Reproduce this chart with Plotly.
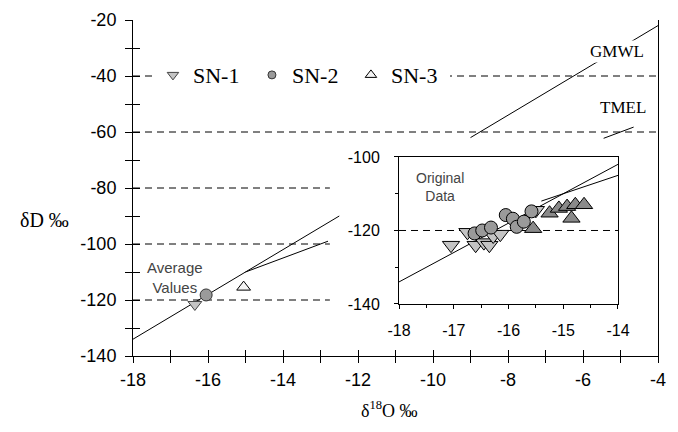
import plotly.graph_objects as go

# ---------------- data ----------------
# Average values (main panel)
avg_names = ["SN-1", "SN-2", "SN-3"]
avg_d18o = [-16.35, -16.05, -15.05]
avg_dd = [-121.6, -118.2, -115.4]

# Original data (inset)
sn1_d18o = [-17.05, -16.75, -16.6, -16.45, -16.35, -16.28, -16.15, -15.5]
sn1_dd = [-124.0, -120.5, -124.0, -123.3, -124.0, -121.5, -121.0, -114.5]
sn2_d18o = [-16.62, -16.48, -16.32, -16.05, -15.92, -15.85, -15.72, -15.58]
sn2_dd = [-120.8, -120.0, -119.2, -115.8, -116.8, -119.0, -117.6, -114.8]
sn3_d18o = [-15.55, -15.25, -15.08, -14.93, -14.85, -14.78, -14.62]
sn3_dd = [-119.5, -115.3, -114.0, -113.5, -116.7, -113.0, -113.0]

# Water lines: dD = slope * d18O + intercept
gmwl_slope, gmwl_intercept = 8.0, 10.0
tmel_slope, tmel_intercept = 5.0, -35.0
gmwl_main_segments = [(-18.0, -12.5), (-9.0, -4.0)]
tmel_main_segments = [(-15.0, -12.8), (-5.45, -4.65)]
gmwl_inset_segment = (-18.0, -14.0)
tmel_inset_segment = (-15.4, -14.0)

# dashed reference levels (main) and where they stop
ref_levels = [-40, -60, -80, -100, -120]
ref_level_ends = [-4.0, -4.0, -12.75, -12.75, -12.75]
inset_ref_level = -120

# tick labels
x_main_ticks = [-18, -17, -16, -15, -14, -13, -12, -11, -10, -9, -8, -7, -6, -5, -4]
x_main_labels = ["-18", "", "-16", "", "-14", "", "-12", "", "-10", "", "-8", "", "-6", "", "-4"]
y_main_ticks = [-140, -130, -120, -110, -100, -90, -80, -70, -60, -50, -40, -30, -20]
y_main_labels = ["-140", "", "-120", "", "-100", "", "-80", "", "-60", "", "-40", "", "-20"]
x_inset_ticks = [-18, -17, -16, -15, -14]
x_inset_labels = ["-18", "-17", "-16", "-15", "-14"]
y_inset_ticks = [-140, -120, -100]
y_inset_labels = ["-140", "-120", "-100"]

# ---------------- styles ----------------
SANS = "Liberation Sans, Arial, sans-serif"
SERIF = "Liberation Serif, Times New Roman, serif"
DASH = "7px,5px"

sn_style = {
    "SN-1": dict(symbol="triangle-down", color="#c4c4c4", line=dict(color="#444", width=1)),
    "SN-2": dict(symbol="circle", color="#9a9a9a", line=dict(color="#333", width=1)),
    "SN-3": dict(symbol="triangle-up", color="#f4f4f4", line=dict(color="#000", width=1)),
}
inset_colors = {"SN-1": "#c4c4c4", "SN-2": "#9a9a9a", "SN-3": "#8a8a8a"}

fig = go.Figure()

# dashed reference lines (main)
for lvl, xe in zip(ref_levels, ref_level_ends):
    fig.add_trace(go.Scatter(x=[-18, xe], y=[lvl, lvl], mode="lines",
                             line=dict(color="black", width=1, dash=DASH),
                             showlegend=False, hoverinfo="skip"))

# water lines (main)
for slope, icpt, segs in [(gmwl_slope, gmwl_intercept, gmwl_main_segments),
                          (tmel_slope, tmel_intercept, tmel_main_segments)]:
    for x0, x1 in segs:
        fig.add_trace(go.Scatter(x=[x0, x1], y=[slope * x0 + icpt, slope * x1 + icpt],
                                 mode="lines", line=dict(color="black", width=1),
                                 showlegend=False, hoverinfo="skip"))

# average markers (main)
for name, xv, yv in zip(avg_names, avg_d18o, avg_dd):
    st = sn_style[name]
    fig.add_trace(go.Scatter(x=[xv], y=[yv], mode="markers", showlegend=False,
                             marker=dict(symbol=st["symbol"], size=12, color=st["color"],
                                         line=st["line"])))

# legend-only entries
for name in avg_names:
    st = sn_style[name]
    fig.add_trace(go.Scatter(x=[None], y=[None], mode="markers", name=name,
                             marker=dict(symbol=st["symbol"], size=10 if name != "SN-2" else 8,
                                         color=st["color"], line=st["line"])))

# helper axes that carry the inner half of the crossing ticks
fig.add_trace(go.Scatter(x=[None], y=[None], xaxis="x3", yaxis="y",
                         showlegend=False, hoverinfo="skip"))
fig.add_trace(go.Scatter(x=[None], y=[None], xaxis="x", yaxis="y3",
                         showlegend=False, hoverinfo="skip"))

# ---- inset ----
fig.add_trace(go.Scatter(x=[-18, -14], y=[inset_ref_level, inset_ref_level], mode="lines",
                         line=dict(color="black", width=1, dash=DASH),
                         xaxis="x2", yaxis="y2", showlegend=False, hoverinfo="skip"))
for slope, icpt, (x0, x1) in [(gmwl_slope, gmwl_intercept, gmwl_inset_segment),
                              (tmel_slope, tmel_intercept, tmel_inset_segment)]:
    fig.add_trace(go.Scatter(x=[x0, x1], y=[slope * x0 + icpt, slope * x1 + icpt],
                             mode="lines", line=dict(color="black", width=1),
                             xaxis="x2", yaxis="y2", showlegend=False, hoverinfo="skip"))

for name, xs, ys, sz in [("SN-1", sn1_d18o, sn1_dd, 15), ("SN-2", sn2_d18o, sn2_dd, 13),
                         ("SN-3", sn3_d18o, sn3_dd, 15)]:
    st = sn_style[name]
    fig.add_trace(go.Scatter(x=xs, y=ys, mode="markers", xaxis="x2", yaxis="y2",
                             showlegend=False,
                             marker=dict(symbol=st["symbol"], size=sz, color=inset_colors[name],
                                         line=dict(color="black", width=1))))

axis_common = dict(showgrid=False, zeroline=False, linecolor="black", linewidth=1,
                   tickcolor="black", tickwidth=1, automargin=False)

# the page body adds an 8px margin, so the figure is 8px smaller than the window
fig.update_layout(
    template="none",
    width=670, height=424,
    margin=dict(l=125, r=20, t=12, b=76),
    paper_bgcolor="white", plot_bgcolor="white",
    font=dict(family=SANS, color="black"),
    xaxis=dict(range=[-18, -4], domain=[0, 1], anchor="y", showline=True,
               tickmode="array", tickvals=x_main_ticks, ticktext=x_main_labels,
               ticks="outside", ticklen=6, ticklabelstandoff=1,
               tickfont=dict(size=18, family=SANS), **axis_common),
    yaxis=dict(range=[-140, -20], domain=[0, 1], anchor="x", showline=True, mirror=True,
               tickmode="array", tickvals=y_main_ticks, ticktext=y_main_labels,
               ticks="outside", ticklen=7, ticklabelstandoff=5,
               tickfont=dict(size=18, family=SANS), **axis_common),
    xaxis3=dict(range=[-18, -4], overlaying="x", anchor="y", side="bottom", showline=False,
                tickmode="array", tickvals=x_main_ticks, showticklabels=False,
                ticks="inside", ticklen=6, **axis_common),
    yaxis3=dict(range=[-140, -20], overlaying="y", anchor="x", side="left", showline=False,
                tickmode="array", tickvals=y_main_ticks, showticklabels=False,
                ticks="inside", ticklen=7, **axis_common),
    xaxis2=dict(range=[-18, -14], domain=[0.5067, 0.9238], anchor="y2", showline=True,
                mirror=True, tickmode="array", tickvals=x_inset_ticks, ticktext=x_inset_labels,
                ticks="outside", ticklen=4, ticklabelstandoff=8,
                minor=dict(dtick=0.5, tick0=-18, ticks="outside", ticklen=3, tickcolor="black"),
                tickfont=dict(size=16, family=SANS), **axis_common),
    yaxis2=dict(range=[-140, -100], domain=[0.1548, 0.5923], anchor="x2", showline=True,
                mirror=True, tickmode="array", tickvals=y_inset_ticks, ticktext=y_inset_labels,
                ticks="outside", ticklen=4, ticklabelstandoff=11,
                minor=dict(dtick=10, tick0=-140, ticks="outside", ticklen=3, tickcolor="black"),
                tickfont=dict(size=16, family=SANS), **axis_common),
    legend=dict(orientation="h", x=0.038, xanchor="left", y=0.836, yanchor="middle",
                bgcolor="white", borderwidth=0, font=dict(family=SERIF, size=22),
                itemsizing="trace", entrywidth=54, entrywidthmode="pixels"),
    showlegend=True,
)

annotations = [
    dict(text="δD ‰", x=-0.1695, y=0.405, xref="paper", yref="paper", xanchor="center",
         yanchor="middle", showarrow=False, font=dict(family=SERIF, size=20)),
    dict(text="δ<sup>18</sup>O ‰", x=0.4895, y=-0.1607, xref="paper", yref="paper",
         xanchor="center", yanchor="middle", showarrow=False, font=dict(family=SERIF, size=18)),
    dict(text="GMWL", x=-5.09, y=-31.4, xref="x", yref="y", showarrow=False,
         bgcolor="white", font=dict(family=SERIF, size=17)),
    dict(text="TMEL", x=-4.93, y=-51.4, xref="x", yref="y", showarrow=False,
         bgcolor="white", font=dict(family=SERIF, size=17)),
    dict(text="Average<br>Values", x=-16.88, y=-111.8, xref="x", yref="y", showarrow=False,
         font=dict(family=SANS, size=15, color="#444")),
    dict(text="Original<br>Data", x=-17.25, y=-108.2, xref="x2", yref="y2", showarrow=False,
         font=dict(family=SANS, size=14, color="#444")),
]
fig.update_layout(annotations=annotations)

fig.write_html("out.html")
